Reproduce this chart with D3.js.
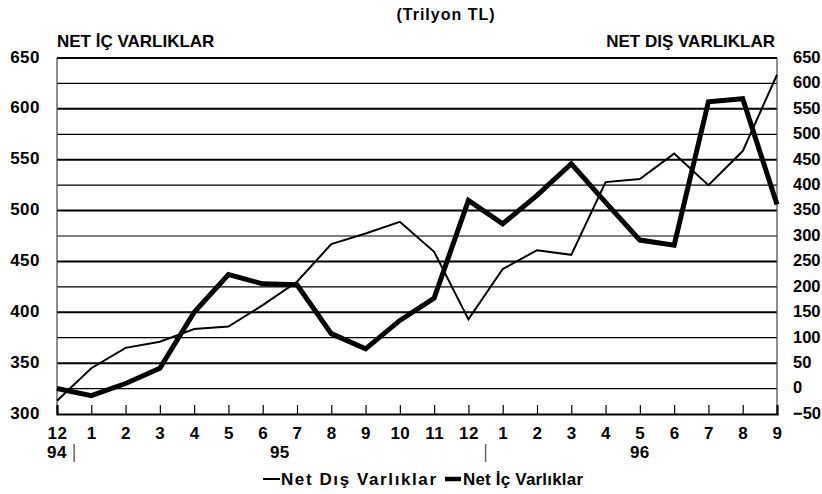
<!DOCTYPE html>
<html><head><meta charset="utf-8">
<script src="https://cdn.jsdelivr.net/npm/d3@7"></script>
<style>
body{margin:0;background:#fff;}
svg{display:block;font-family:"Liberation Sans",Arial,sans-serif;font-weight:bold;}
</style></head>
<body>
<svg id="c" width="822" height="494"></svg>
<script>
const months = ["12","1","2","3","4","5","6","7","8","9","10","11","12","1","2","3","4","5","6","7","8","9"];
const years = [{label:"94", from:0, to:0},{label:"95", from:1, to:12},{label:"96", from:13, to:21}];
const netIc = [325,318,330,345,400,437,428,427,379,364,392,414,510,487,515,546,508,471,466,607,610,506];
const netDis = [-24,40,80,92,117,122,164,210,284,305,328,269,136,235,272,263,406,412,462,400,467,617];
const leftTicks = [300,350,400,450,500,550,600,650];
const rightTicks = [-50,0,50,100,150,200,250,300,350,400,450,500,550,600,650];
const gridValues = d3.range(325,650,25);

const svg = d3.select("#c");
const L=57, R=777, T=58, B=414;
const FONT = "Liberation Sans, Arial, sans-serif";
const x = d3.scalePoint().domain(d3.range(months.length)).range([L,R]);
const yL = d3.scaleLinear().domain([300,650]).range([B,T]);
const yR = d3.scaleLinear().domain([-50,650]).range([B,T]);

// gridlines
svg.append("g").selectAll("line").data(gridValues).join("line")
  .attr("x1",L).attr("x2",R).attr("y1",d=>yL(d)).attr("y2",d=>yL(d))
  .attr("stroke","#000").attr("stroke-width",d=>d%50===0?2:1.2);
svg.append("line").attr("x1",L).attr("x2",R).attr("y1",yL(650)).attr("y2",yL(650)).attr("stroke","#000").attr("stroke-width",2.2);

// vertical frame lines
svg.append("line").attr("x1",L).attr("x2",L).attr("y1",T).attr("y2",B).attr("stroke","#444").attr("stroke-width",1.2);
svg.append("line").attr("x1",R).attr("x2",R).attr("y1",T).attr("y2",B).attr("stroke","#444").attr("stroke-width",1.2);

// bottom axis
const xa = svg.append("g").attr("transform",`translate(0,${B})`)
  .call(d3.axisBottom(x).tickSize(-9).tickFormat(i=>months[i]));
xa.select(".domain").attr("stroke","#000").attr("stroke-width",2.2);
xa.selectAll(".tick line").attr("stroke","#000").attr("stroke-width",1.2)
  .filter(i=>i===0||i===months.length-1).remove();
xa.selectAll(".tick text").attr("y",19).attr("dy","0.35em")
  .attr("font-size",17).attr("font-family",FONT)
  .attr("font-weight","bold").attr("fill","#000").attr("letter-spacing",0.5);

// year labels
svg.append("g").selectAll("text").data(years).join("text")
  .attr("x",d=>(x(d.from)+x(d.to))/2).attr("y",452).attr("dy","0.35em")
  .attr("text-anchor","middle").attr("font-size",17).attr("letter-spacing",0.5).text(d=>d.label);
// year separators
const seps = [0, 12];
const step = x(1)-x(0);
svg.append("g").selectAll("line").data(seps).join("line")
  .attr("x1",d=>x(d)+step/2).attr("x2",d=>x(d)+step/2)
  .attr("y1",444).attr("y2",462).attr("stroke","#666").attr("stroke-width",1.5);

// left axis
const la = svg.append("g").attr("transform",`translate(${L},0)`)
  .call(d3.axisLeft(yL).tickValues(leftTicks).tickSize(0).tickPadding(17).tickFormat(d3.format("d")));
la.select(".domain").remove();
la.selectAll(".tick text").attr("font-size",17).attr("font-family",FONT)
  .attr("font-weight","bold").attr("fill","#000").attr("dy","0.24em").attr("letter-spacing",0.5);

// right axis
const ra = svg.append("g").attr("transform",`translate(${R},0)`)
  .call(d3.axisRight(yR).tickValues(rightTicks).tickSize(0).tickPadding(16).tickFormat(d3.format("d")));
ra.select(".domain").remove();
ra.selectAll(".tick text").attr("font-size",16.5).attr("font-family",FONT)
  .attr("font-weight","bold").attr("fill","#000").attr("dy","0.26em");

// lines
const lineDis = d3.line().x((d,i)=>x(i)).y(d=>yR(d));
const lineIc = d3.line().x((d,i)=>x(i)).y(d=>yL(d));
svg.append("path").datum(netDis).attr("d",lineDis).attr("fill","none").attr("stroke","#000").attr("stroke-width",2).attr("stroke-linejoin","miter");
svg.append("path").datum(netIc).attr("d",lineIc).attr("fill","none").attr("stroke","#000").attr("stroke-width",5).attr("stroke-linejoin","miter");

// titles
svg.append("text").attr("x",446).attr("y",14).attr("dy","0.35em").attr("text-anchor","middle")
  .attr("font-size",16).attr("letter-spacing",1).text("(Trilyon TL)");
svg.append("text").attr("x",L).attr("y",41).attr("dy","0.35em").attr("font-size",17).text("NET İÇ VARLIKLAR");
svg.append("text").attr("x",R-2).attr("y",41).attr("dy","0.35em").attr("text-anchor","end").attr("font-size",17).text("NET DIŞ VARLIKLAR");

// legend
const lg = svg.append("g");
lg.append("line").attr("x1",263).attr("x2",280).attr("y1",479).attr("y2",479).attr("stroke","#000").attr("stroke-width",2);
lg.append("text").attr("x",281).attr("y",479).attr("dy","0.35em").attr("font-size",17)
  .attr("textLength",155).attr("lengthAdjust","spacing").text("Net Dış Varlıklar");
lg.append("line").attr("x1",445).attr("x2",461).attr("y1",479).attr("y2",479).attr("stroke","#000").attr("stroke-width",4.5);
lg.append("text").attr("x",463).attr("y",479).attr("dy","0.35em").attr("font-size",17)
  .attr("textLength",120).attr("lengthAdjust","spacing").text("Net İç Varlıklar");
</script>
</body></html>
